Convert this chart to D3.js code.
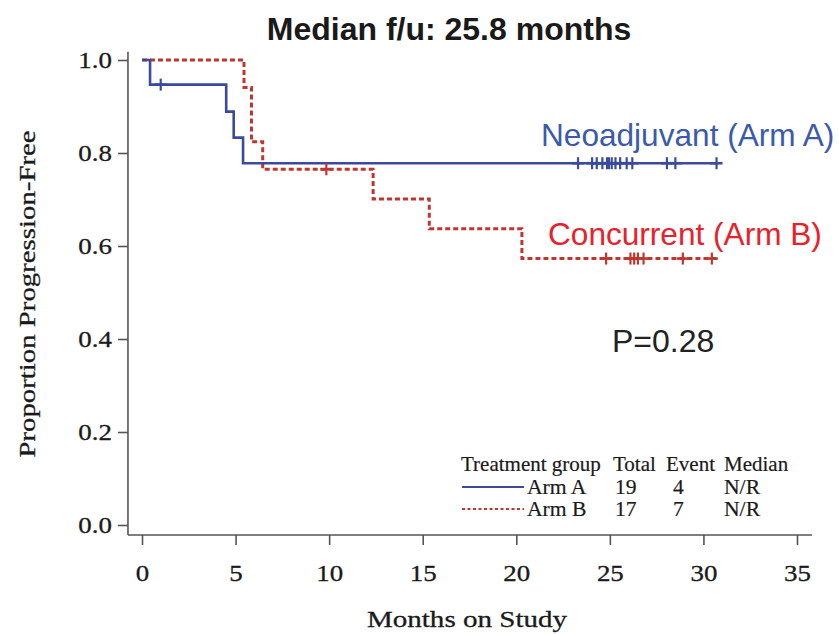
<!DOCTYPE html>
<html>
<head>
<meta charset="utf-8">
<script src="https://cdn.jsdelivr.net/npm/d3@7"></script>
<style>
  body { margin: 0; background: #fff; }
  svg { display: block; }
</style>
</head>
<body>
<svg id="chart"></svg>
<script>
// --- data ---
const armA_times = [0, 0.43, 4.5, 4.9, 5.4]
const armA_surv = [1.0, 0.947, 0.889, 0.833, 0.778]
const armA_end = 30.8
const armA_censor = [1.0, 23.3, 24.05, 24.3, 24.6, 24.85, 24.95, 25.1, 25.3, 25.55, 25.9, 26.2, 28.05, 28.5, 30.7]

const armB_times = [0, 5.45, 5.85, 6.45, 12.35, 15.35, 20.3]
const armB_surv = [1.0, 0.941, 0.824, 0.765, 0.701, 0.637, 0.573]
const armB_end = 30.8
const armB_censor = [9.85, 24.8, 26.1, 26.3, 26.5, 26.8, 28.9, 30.45]

const xTicks = [0, 5, 10, 15, 20, 25, 30, 35]
const yTicks = [0, 0.2, 0.4, 0.6, 0.8, 1.0]

const tableHead = ['Treatment group', 'Total', 'Event', 'Median']
const tableArms = ['Arm A', 'Arm B']
const tableTotal = ['19', '17']
const tableEvent = ['4', '7']
const tableMedian = ['N/R', 'N/R']

const blue = '#3a4b9e'
const red = '#c0362f'

// setting up container
    const width = 839
    const height = 634
    const svg = d3.select('#chart')
        .attr('width', width)
        .attr('height', height)
        .style('font-family', '"Liberation Serif", "Times New Roman", serif')

    // stretch serif text a bit wider, like the original
    const stretch = (sel, k) => sel.each(function () {
        const w = this.getComputedTextLength()
        d3.select(this).attr('textLength', w * k).attr('lengthAdjust', 'spacingAndGlyphs')
    })

// scales
    const x = d3.scaleLinear().domain([0, 35]).range([142, 797])
    const y = d3.scaleLinear().domain([0, 1]).range([525, 60])

// axis lines (extended past the data range like SAS does)
    svg.append('line')
        .attr('x1', x(-0.75)).attr('x2', x(35.8))
        .attr('y1', y(-0.0215)).attr('y2', y(-0.0215))
        .attr('stroke', '#555').attr('stroke-width', 1.6)
    svg.append('line')
        .attr('x1', x(-0.75)).attr('x2', x(-0.75))
        .attr('y1', y(-0.0215)).attr('y2', y(1.018))
        .attr('stroke', '#555').attr('stroke-width', 1.6)

// axes
    const xAxis = d3.axisBottom(x).tickValues(xTicks).tickSize(10).tickPadding(14)
    const gx = svg.append('g')
        .attr('transform', `translate(0, ${y(-0.0215)})`)
        .call(xAxis)
    gx.select('.domain').remove()
    gx.selectAll('line').attr('stroke', '#555').attr('stroke-width', 1.6)
    gx.selectAll('text')
        .style('font-family', '"Liberation Serif", serif')
        .style('font-size', '23px')
        .attr('fill', '#1a1a1a')
        .attr('stroke', '#1a1a1a').attr('stroke-width', 0.3)
        .attr('dy', '0.95em')
        .call(stretch, 1.17)

    const yAxis = d3.axisLeft(y).tickValues(yTicks).tickSize(10).tickFormat(d3.format('.1f')).tickPadding(6)
    const gy = svg.append('g')
        .attr('transform', `translate(${x(-0.75)}, 0)`)
        .call(yAxis)
    gy.select('.domain').remove()
    gy.selectAll('line').attr('stroke', '#555').attr('stroke-width', 1.6)
    gy.selectAll('text')
        .style('font-family', '"Liberation Serif", serif')
        .style('font-size', '23px')
        .attr('fill', '#1a1a1a')
        .attr('stroke', '#1a1a1a').attr('stroke-width', 0.3)
        .call(stretch, 1.17)

// axis titles
    svg.append('text')
        .attr('x', 467).attr('y', 627)
        .attr('text-anchor', 'middle')
        .style('font-size', '24px')
        .attr('fill', '#1a1a1a')
        .attr('stroke', '#1a1a1a').attr('stroke-width', 0.3)
        .text('Months on Study')
        .call(stretch, 1.21)
    svg.append('text')
        .attr('transform', 'translate(35, 294) rotate(-90)')
        .attr('text-anchor', 'middle')
        .style('font-size', '24px')
        .attr('fill', '#1a1a1a')
        .attr('stroke', '#1a1a1a').attr('stroke-width', 0.3)
        .text('Proportion Progression-Free')
        .call(stretch, 1.2)

// title
    svg.append('text')
        .attr('x', 449).attr('y', 40)
        .attr('text-anchor', 'middle')
        .style('font-family', '"Liberation Sans", Arial, sans-serif')
        .style('font-size', '32px')
        .style('font-weight', 'bold')
        .attr('fill', '#1a1a1a')
        .text('Median f/u: 25.8 months')

// step curves
    const stepLine = d3.line()
        .x(d => x(d[0]))
        .y(d => y(d[1]))
        .curve(d3.curveStepAfter)

    const armA = armA_times.map((t, i) => [t, armA_surv[i]])
    armA.push([armA_end, armA_surv[armA_surv.length - 1]])
    const armB = armB_times.map((t, i) => [t, armB_surv[i]])
    armB.push([armB_end, armB_surv[armB_surv.length - 1]])

    svg.append('path')
        .datum(armB)
        .attr('d', stepLine)
        .attr('fill', 'none')
        .attr('stroke', red)
        .attr('stroke-width', 3)
        .attr('stroke-dasharray', '5,3')
    svg.append('path')
        .datum(armA)
        .attr('d', stepLine)
        .attr('fill', 'none')
        .attr('stroke', blue)
        .attr('stroke-width', 2.6)

// censor marks
    const survAt = (times, surv, t) => {
        let s = surv[0]
        times.forEach((tt, i) => { if (tt <= t) s = surv[i] })
        return s
    }
    const drawCensor = (data, times, surv, color) => {
        const g = svg.append('g')
        g.selectAll('.cv')
            .data(data)
            .enter()
            .append('line')
                .attr('x1', d => x(d)).attr('x2', d => x(d))
                .attr('y1', d => y(survAt(times, surv, d)) - 6)
                .attr('y2', d => y(survAt(times, surv, d)) + 6)
                .attr('stroke', color)
                .attr('stroke-width', 2.2)
        g.selectAll('.ch')
            .data(data)
            .enter()
            .append('line')
                .attr('x1', d => x(d) - 6).attr('x2', d => x(d) + 6)
                .attr('y1', d => y(survAt(times, surv, d)))
                .attr('y2', d => y(survAt(times, surv, d)))
                .attr('stroke', color)
                .attr('stroke-width', 2.6)
    }
    drawCensor(armB_censor, armB_times, armB_surv, red)
    drawCensor(armA_censor, armA_times, armA_surv, blue)

// curve labels
    const sans = '"Liberation Sans", Arial, sans-serif'
    svg.append('text')
        .attr('x', 541).attr('y', 146)
        .style('font-family', sans).style('font-size', '31.6px')
        .attr('fill', '#3b5aad')
        .text('Neoadjuvant (Arm A)')
    svg.append('text')
        .attr('x', 548).attr('y', 245)
        .style('font-family', sans).style('font-size', '31.6px')
        .attr('fill', '#e8212a')
        .text('Concurrent (Arm B)')
    svg.append('text')
        .attr('x', 612).attr('y', 352)
        .style('font-family', sans).style('font-size', '32px')
        .attr('fill', '#222')
        .text('P=0.28')

// legend table
    const colX = [461, 613, 666, 724]
    const rowY = [471, 494, 516]
    const tbl = svg.append('g')
        .style('font-size', '21px')
        .attr('fill', '#1a1a1a')
        .attr('stroke', '#1a1a1a').attr('stroke-width', 0.2)
    tbl.selectAll('.head')
        .data(tableHead)
        .enter()
        .append('text')
            .attr('x', (d, i) => colX[i])
            .attr('y', rowY[0])
            .text(d => d)
            .call(stretch, 1.0)

    tableArms.forEach((arm, r) => {
        const yy = rowY[r + 1]
        tbl.append('line')
            .attr('x1', 462).attr('x2', 524)
            .attr('y1', yy - 7).attr('y2', yy - 7)
            .attr('stroke', r === 0 ? blue : red)
            .attr('stroke-width', 2)
            .attr('stroke-dasharray', r === 0 ? null : '3,2.5')
        const cells = [arm, tableTotal[r], tableEvent[r], tableMedian[r]]
        const cx = [527, 615, 673, 724]
        cells.forEach((c, i) => {
            tbl.append('text')
                .attr('x', cx[i]).attr('y', yy)
                .text(c)
                .call(stretch, 1.03)
        })
    })
</script>
</body>
</html>
